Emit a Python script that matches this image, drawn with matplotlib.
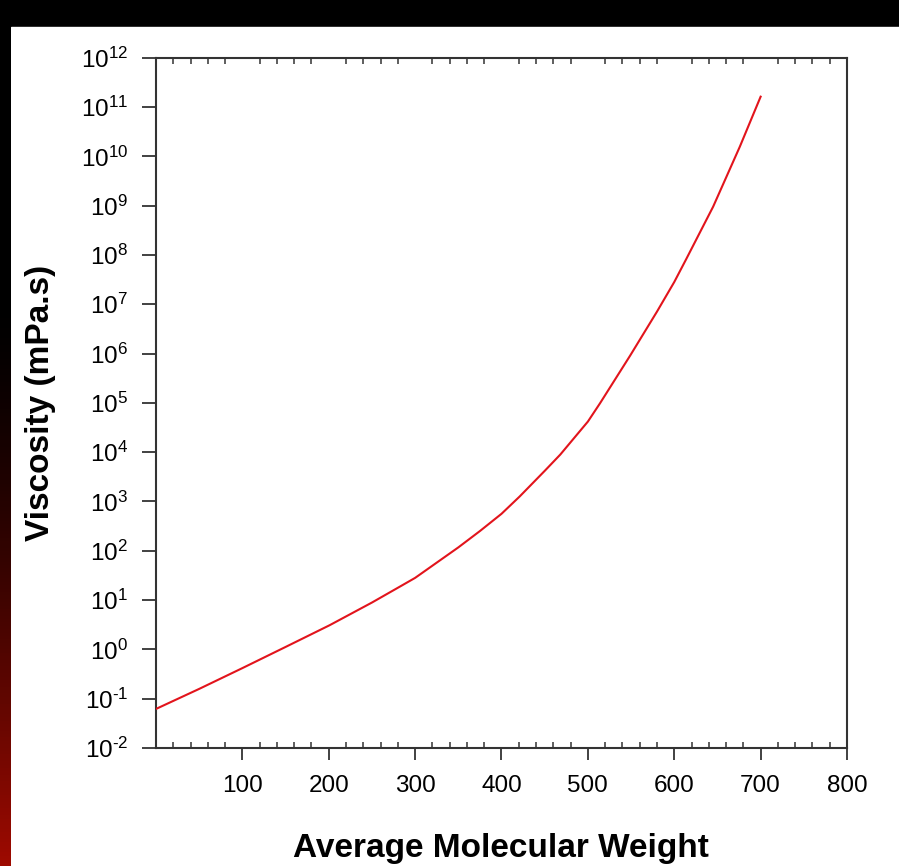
import numpy as np
import matplotlib
matplotlib.use("Agg")
import matplotlib.pyplot as plt
from matplotlib.ticker import FixedLocator, FuncFormatter, NullLocator

plt.rcParams['font.family'] = ['Liberation Sans', 'DejaVu Sans']
plt.rcParams['mathtext.fontset'] = 'custom'
plt.rcParams['mathtext.rm'] = 'Liberation Sans'

# values
mol_weight = [0, 50, 100, 150, 201, 250, 282, 300, 350, 375, 400, 421, 450,
              468, 500, 514, 549, 580, 600, 614, 645, 676, 700]
viscosity = [0.062, 0.158, 0.417, 1.12, 3.09, 8.91, 18.6, 28.2, 117, 251,
             562, 1260, 4170, 8910, 41700, 97700, 912000, 7.08e6, 2.82e7,
             8.32e7, 9.5e8, 1.58e10, 1.62e11]

x_major = [100, 200, 300, 400, 500, 600, 700, 800]
x_minor = [v for v in range(20, 800, 20) if v % 100 != 0]
y_decades = list(range(-2, 13))


def decade_label(v, pos):
    d = int(round(np.log10(v)))
    if d < 0:
        return r'$\mathregular{10^{\text{-}%d}}$' % (-d)
    return r'$\mathregular{10^{%d}}$' % d


W, H = 899, 866
fig = plt.figure(figsize=(W / 100, H / 100), dpi=100)
fig.patch.set_facecolor('black')

# white panel
fig.add_artist(plt.Rectangle((11 / W, 0), 1 - 11 / W, 1 - 27 / H,
                             transform=fig.transFigure, color='white', zorder=0))

# dark red glow on the left strip
gax = fig.add_axes([0, 0, 11 / W, 1])
grad = np.linspace(0, 1, 256).reshape(-1, 1)
grad = np.clip((grad - 0.35) / 0.65, 0, 1) ** 1.4
rgb = np.dstack([grad * 0.62, grad * 0.04, grad * 0.0])
gax.imshow(rgb, aspect='auto', origin='upper', extent=[0, 1, 0, 1])
gax.axis('off')

ax = fig.add_axes([156 / W, 1 - 748 / H, (847 - 156) / W, (748 - 57.7) / H])
ax.set_facecolor('white')
ax.plot(mol_weight, viscosity, color='#e2141c', lw=1.5, zorder=3)

ax.set_yscale('log')
ax.set_xlim(0, 800)
ax.set_ylim(1e-2, 1e12)

ax.xaxis.set_major_locator(FixedLocator(x_major))
ax.xaxis.set_minor_locator(FixedLocator(x_minor))
ax.yaxis.set_major_locator(FixedLocator([10.0 ** d for d in y_decades]))
ax.yaxis.set_minor_locator(NullLocator())
ax.yaxis.set_major_formatter(FuncFormatter(decade_label))

ax.tick_params(axis='x', which='major', direction='out', length=8.5, width=1.3,
               color='#333333', labelsize=17.5, pad=11, top=False)
ax.tick_params(axis='x', which='minor', direction='in', length=4, width=1.1,
               color='#333333', top=True, bottom=True)
ax.tick_params(axis='y', which='major', direction='out', length=10, width=1.3,
               color='#333333', labelsize=17.5, pad=10, right=False)

for s in ax.spines.values():
    s.set_color('#333333')
    s.set_linewidth(1.5)

ax.set_xlabel('Average Molecular Weight', fontsize=24, fontweight='bold')
ax.set_ylabel('Viscosity (mPa.s)', fontsize=24, fontweight='bold')
ax.xaxis.set_label_coords(0.499, -0.123)
ax.yaxis.set_label_coords(-0.145, 0.5)

fig.savefig('out.png', dpi=100, facecolor=fig.get_facecolor())
